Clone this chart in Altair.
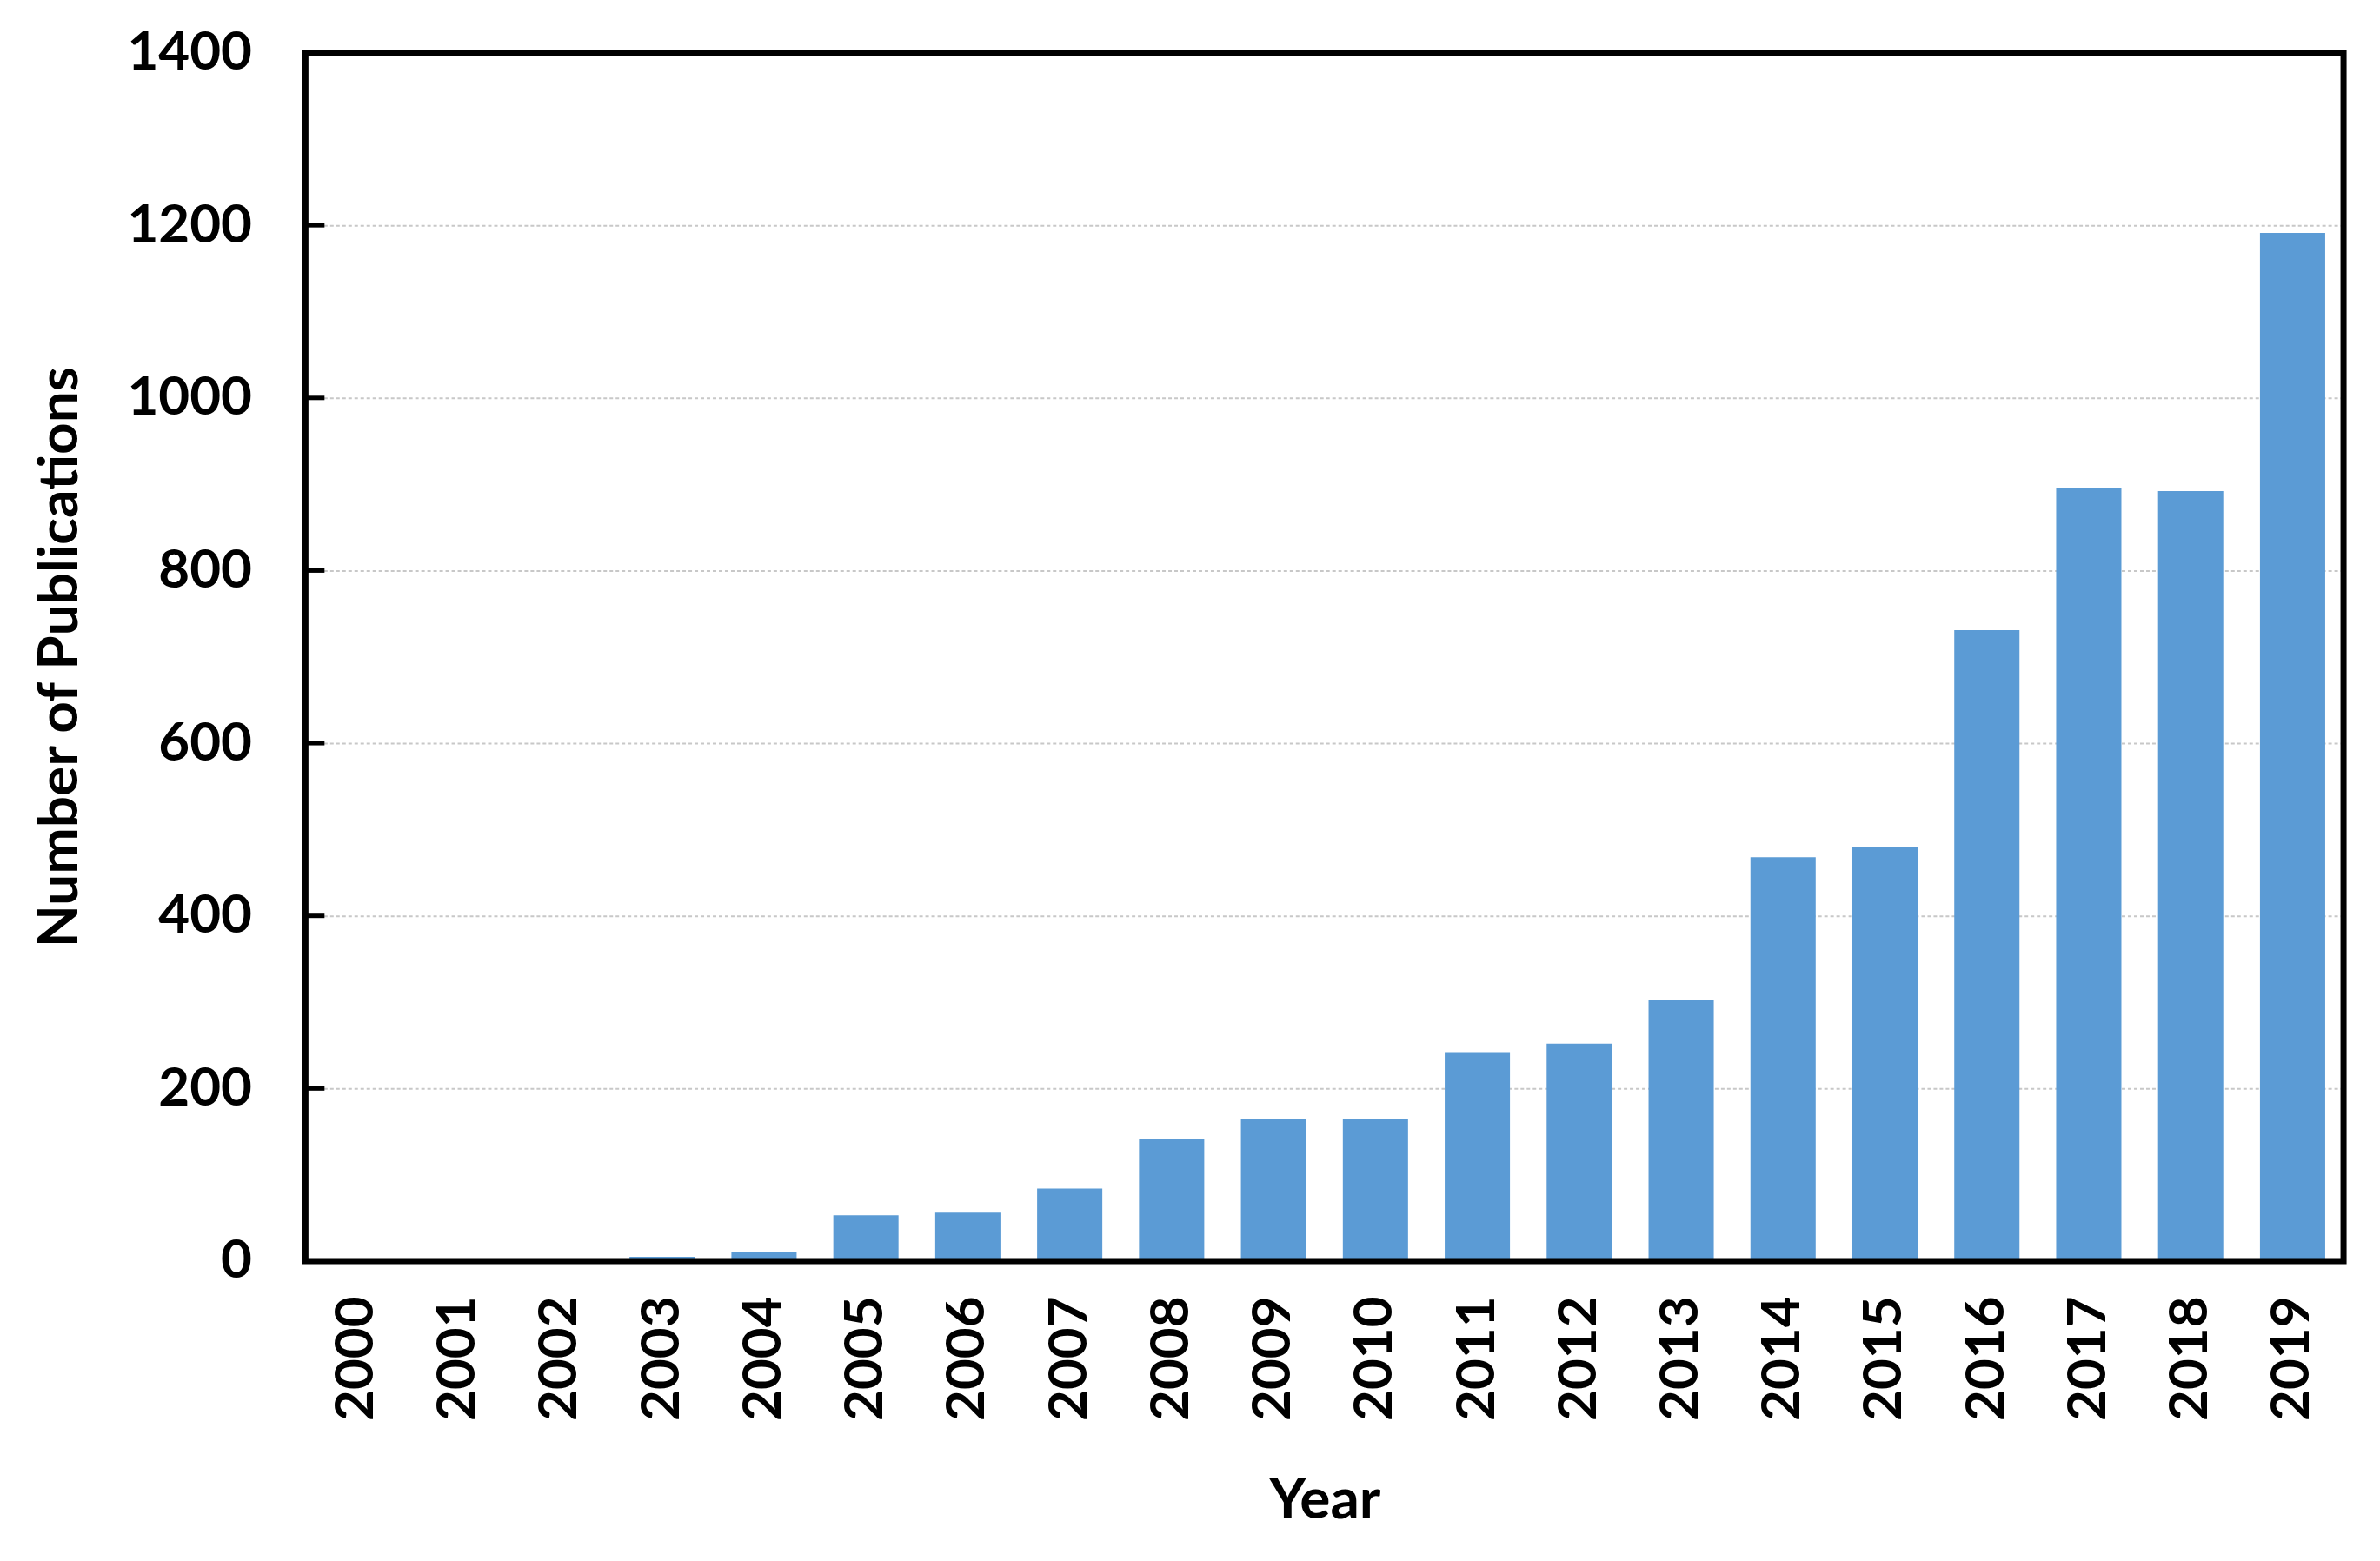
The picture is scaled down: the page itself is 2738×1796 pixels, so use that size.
import altair as alt
import pandas as pd

years = [str(y) for y in range(2000, 2020)]
publications = [0, 0, 0, 5, 10, 53, 56, 84, 142, 165, 165, 242, 252, 303, 468, 480, 731, 895, 892, 1191]
y_ticks = [0, 200, 400, 600, 800, 1000, 1200, 1400]

W, H = 2349, 1393

df = pd.DataFrame({"Year": years, "Publications": publications})
ticks_df = pd.DataFrame({"v": y_ticks})
frame_df = pd.DataFrame({"k": [0]})

FONT = "Lato"

bars = alt.Chart(df).mark_bar(color="#5B9BD5").encode(
    x=alt.X(
        "Year:N",
        sort=years,
        scale=alt.Scale(paddingInner=0.36, paddingOuter=0.18),
        axis=alt.Axis(
            title="Year",
            labelAngle=270,
            labelFontSize=62,
            labelFont=FONT,
            labelFontWeight="bold",
            labelColor="black",
            labelPadding=40,
            ticks=False,
            domain=False,
            titleFontSize=66,
            titleFont=FONT,
            titleFontWeight="bold",
            titleColor="black",
            titlePadding=60,
        ),
    ),
    y=alt.Y(
        "Publications:Q",
        scale=alt.Scale(domain=[0, 1400], nice=False),
        axis=alt.Axis(
            title="Number of Publications",
            values=y_ticks,
            format="d",
            labelFontSize=62,
            labelFont=FONT,
            labelFontWeight="bold",
            labelColor="black",
            labelPadding=62,
            ticks=False,
            domain=False,
            grid=True,
            gridColor="#c8c8c8",
            gridDash=[4, 3],
            gridWidth=2,
            titleFontSize=64,
            titleFont=FONT,
            titleFontWeight="bold",
            titleColor="black",
            titlePadding=50,
        ),
    ),
)

tick_marks = alt.Chart(ticks_df).mark_rule(color="black", strokeWidth=5).encode(
    y=alt.Y("v:Q", scale=alt.Scale(domain=[0, 1400], nice=False)),
    x=alt.value(0),
    x2=alt.value(22),
)

frame = alt.Chart(frame_df).mark_rect(
    fillOpacity=0, stroke="black", strokeWidth=7
).encode(
    x=alt.value(0),
    x2=alt.value(W),
    y=alt.value(0),
    y2=alt.value(H),
)

chart = (
    alt.layer(bars, tick_marks, frame)
    .properties(
        width=W,
        height=H,
        background="white",
        padding={"left": 30, "top": 20, "right": 30, "bottom": 10},
    )
    .configure_view(stroke=None)
)

chart.save("out.html", embed_options={"renderer": "svg", "actions": False})
